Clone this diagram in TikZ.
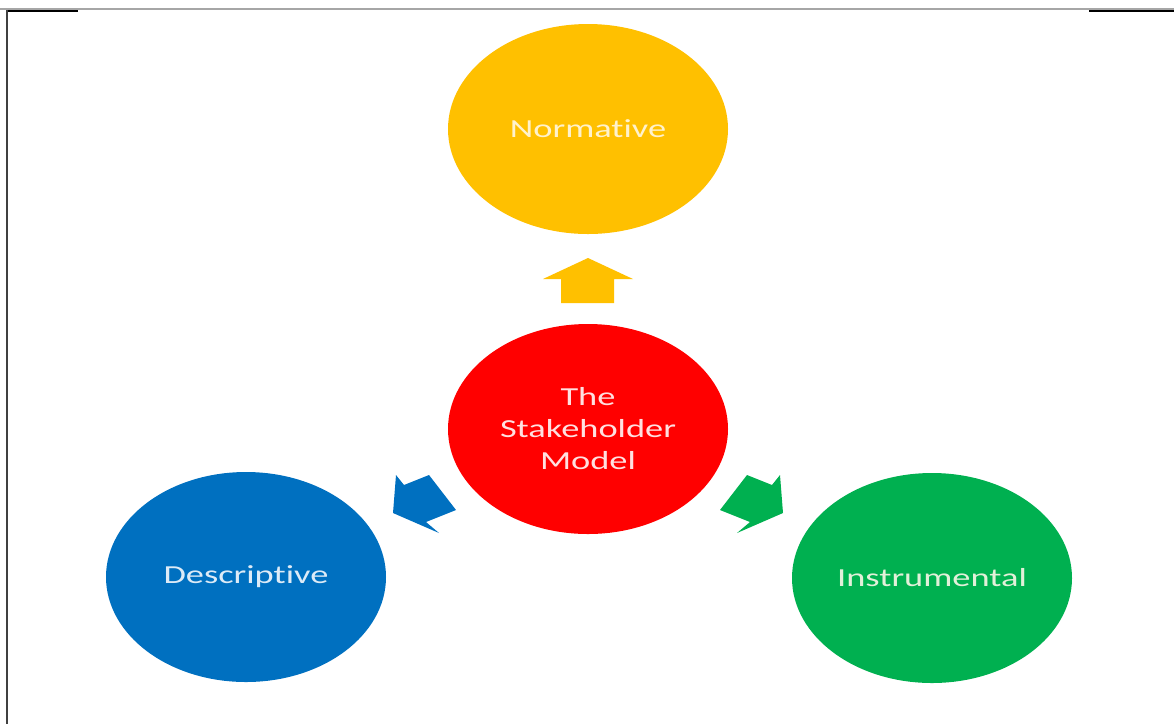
\documentclass[tikz,border=0pt]{standalone}
\usepackage{fontspec}
\setmainfont{Carlito}[Ligatures={NoCommon}]
\usetikzlibrary{shapes.geometric}
\definecolor{cyel}{HTML}{FFC000}
\definecolor{cred}{HTML}{FF0000}
\definecolor{cblu}{HTML}{0070C0}
\definecolor{cgrn}{HTML}{00B050}
\definecolor{tyel}{HTML}{FFF2CC}
\definecolor{tred}{HTML}{FFE0E0}
\definecolor{tblu}{HTML}{DDEBF7}
\definecolor{tgrn}{HTML}{E2F0D9}
\begin{document}
\begin{tikzpicture}[x=1pt,y=-1pt,
  bubble/.style={ellipse, xscale=1.4, transform shape, minimum width=200pt, minimum height=210pt,
     inner sep=0pt, align=center, font=\fontsize{26}{32}\selectfont}]
\useasboundingbox (0,0) rectangle (1174,724);
\fill[white] (0,0) rectangle (1174,724);
% frame lines
\draw[line width=1.5pt, gray!70] (0,9) -- (1174,9);
\draw[line width=2pt, black] (7,10.5) -- (78,10.5);
\draw[line width=2pt, black] (1089,10.5) -- (1174,10.5);
\draw[line width=2.5pt, black!75] (7,10) -- (7,724);
% circles
\node[bubble, fill=cyel, text=tyel] (norm) at (588,129) {Normative};
\node[bubble, fill=cred, text=tred] (model) at (588,429) {The\\Stakeholder\\Model};
\node[bubble, fill=cblu, text=tblu] (desc) at (246,577) {Descriptive};
\node[bubble, fill=cgrn, text=tgrn] (inst) at (932,578) {Instrumental};
% block arrows
\fill[cyel] (588,258) -- (633,279) -- (614,279) -- (614,303) -- (561,303) -- (561,279) -- (543,279) -- cycle;
\fill[cgrn] (783,513) -- (780,475) -- (772,485) -- (747,475) -- (720,510) -- (750,522) -- (737,533) -- cycle;
\fill[cblu] (393,513) -- (396,475) -- (404,485) -- (429,475) -- (456,510) -- (426,522) -- (439,533) -- cycle;
\end{tikzpicture}
\end{document}
